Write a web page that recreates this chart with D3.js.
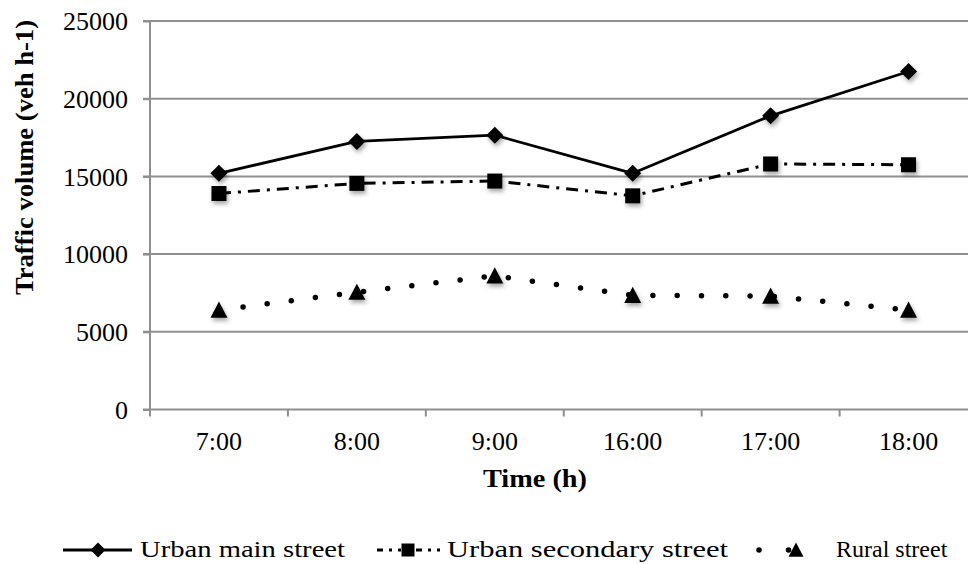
<!DOCTYPE html>
<html><head><meta charset="utf-8">
<script src="https://cdn.jsdelivr.net/npm/d3@7"></script>
<style>
html,body{margin:0;padding:0;background:#fff;}
svg{display:block;}
</style></head>
<body>
<svg id="chart" width="968" height="564"></svg>
<script>
const categories = ["7:00","8:00","9:00","16:00","17:00","18:00"];
const urbanMain = [15200, 17250, 17650, 15200, 18900, 21750];
const urbanSecondary = [13900, 14550, 14700, 13750, 15800, 15750];
const rural = [6400, 7550, 8600, 7350, 7300, 6400];
const yTicks = [0, 5000, 10000, 15000, 20000, 25000];
const seriesNames = ["Urban main street", "Urban secondary street", "Rural street"];

const svg = d3.select("#chart");
const W = 968, H = 564;
const plotL = 150, plotR = 977.5, plotT = 21, plotB = 409.5;

const x = d3.scaleBand().domain(categories).range([plotL, plotR]).padding(0);
const y = d3.scaleLinear().domain([0, 25000]).range([plotB, plotT]);
const cx = d => x(d) + x.bandwidth() / 2;

const defs = svg.append("defs");
const f = defs.append("filter").attr("id", "shadow").attr("x", "-50%").attr("y", "-50%").attr("width", "200%").attr("height", "200%");
f.append("feDropShadow").attr("dx", 1.5).attr("dy", 3).attr("stdDeviation", 2).attr("flood-color", "#000").attr("flood-opacity", 0.35);

const gridColor = "#8f8f8f";
// gridlines
svg.append("g").selectAll("line").data(yTicks).join("line")
  .attr("x1", plotL - 7).attr("x2", W)
  .attr("y1", d => y(d)).attr("y2", d => y(d))
  .attr("stroke", gridColor).attr("stroke-width", 2);

// y axis
const yAxis = svg.append("g").attr("transform", `translate(${plotL},0)`)
  .call(d3.axisLeft(y).tickValues(yTicks).tickSize(7).tickPadding(15).tickFormat(d3.format("d")));
yAxis.select(".domain").remove();
yAxis.selectAll(".tick line").attr("stroke", gridColor).attr("stroke-width", 2);
yAxis.selectAll(".tick text").attr("font-family", "'Liberation Serif','Times New Roman',serif")
  .attr("font-size", 26).attr("fill", "#000").attr("dy", "0.34em");
svg.append("line").attr("x1", plotL).attr("x2", plotL).attr("y1", plotT).attr("y2", plotB + 7)
  .attr("stroke", gridColor).attr("stroke-width", 2);

// x axis
const xAxis = svg.append("g").attr("transform", `translate(0,${plotB})`)
  .call(d3.axisBottom(x).tickSize(0).tickPadding(0));
xAxis.select(".domain").remove();
xAxis.selectAll(".tick text").attr("font-family", "'Liberation Serif','Times New Roman',serif")
  .attr("font-size", 26).attr("fill", "#000").attr("y", 40.5).attr("dy", 0);
svg.append("g").selectAll("line").data(categories.slice(1)).join("line")
  .attr("x1", d => x(d)).attr("x2", d => x(d)).attr("y1", plotB).attr("y2", plotB + 7)
  .attr("stroke", gridColor).attr("stroke-width", 2);

// axis titles
svg.append("text").attr("x", 535).attr("y", 487).attr("text-anchor", "middle")
  .attr("font-family", "'Liberation Serif','Times New Roman',serif").attr("font-weight", "bold")
  .attr("font-size", 25).attr("textLength", 104).attr("lengthAdjust", "spacingAndGlyphs").text("Time (h)");
svg.append("text").attr("transform", "translate(33,157.5) rotate(-90)").attr("text-anchor", "middle")
  .attr("font-family", "'Liberation Serif','Times New Roman',serif").attr("font-weight", "bold")
  .attr("font-size", 25).attr("textLength", 275).attr("lengthAdjust", "spacingAndGlyphs").text("Traffic volume (veh h-1)");

// marker paths
const diamond = s => `M0,${-s}L${s},0L0,${s}L${-s},0Z`;
const square = s => `M${-s},${-s}H${s}V${s}H${-s}Z`;
const triangle = s => `M0,${-s}L${s},${s*0.9}H${-s}Z`;

const line = d3.line().x((d, i) => cx(categories[i])).y(d => y(d));

const styles = [
  {data: urbanMain, dash: null, width: 2.8, cap: "butt", marker: diamond(8.5)},
  {data: urbanSecondary, dash: "12 7 3 7", width: 3, cap: "butt", marker: square(7.5)},
  {data: rural, dash: "0 24.3", width: 5.5, cap: "round", marker: triangle(8.5)}
];

styles.forEach(s => {
  svg.append("path").datum(s.data).attr("d", line).attr("fill", "none")
    .attr("stroke", "#000").attr("stroke-width", s.width)
    .attr("stroke-dasharray", s.dash).attr("stroke-linecap", s.cap).attr("stroke-linejoin", "round");
});
styles.forEach(s => {
  svg.append("g").selectAll("path").data(s.data).join("path")
    .attr("d", s.marker)
    .attr("transform", (d, i) => `translate(${cx(categories[i])},${y(d)})`)
    .attr("fill", "#000").attr("filter", "url(#shadow)");
});

// legend
const ly = 550;
const legendItems = [
  {x1: 63, x2: 132, mx: 98, tx: 140, tw: 205, dash: null, width: 2.8, cap: "butt", marker: diamond(7.5)},
  {x1: 377, x2: 441, mx: 408, tx: 447, tw: 281, dash: "6 6 3 6 3 6 3 6", width: 3, cap: "butt", marker: square(6.5)},
  {x1: 759, x2: 818, mx: 796, tx: 836, tw: null, dash: "0 29.5", width: 5.5, cap: "round", marker: triangle(7.5)}
];
const lg = svg.append("g");
legendItems.forEach((it, i) => {
  lg.append("line").attr("x1", it.x1).attr("x2", it.x2).attr("y1", ly).attr("y2", ly)
    .attr("stroke", "#000").attr("stroke-width", it.width)
    .attr("stroke-dasharray", it.dash).attr("stroke-linecap", it.cap);
  lg.append("path").attr("d", it.marker).attr("transform", `translate(${it.mx},${ly})`).attr("fill", "#000");
  const t = lg.append("text").attr("x", it.tx).attr("y", 557)
    .attr("font-family", "'Liberation Serif','Times New Roman',serif").attr("font-size", 24)
    .text(seriesNames[i]);
  if (it.tw) t.attr("textLength", it.tw).attr("lengthAdjust", "spacingAndGlyphs");
});
</script>
</body></html>
